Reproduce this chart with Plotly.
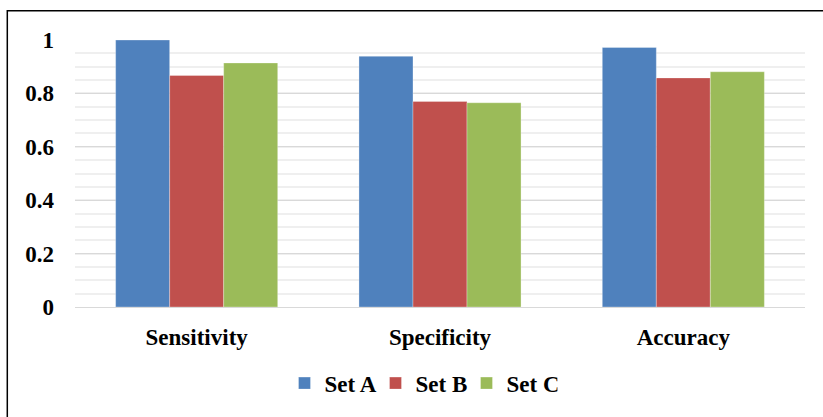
import plotly.graph_objects as go

categories = ["Sensitivity", "Specificity", "Accuracy"]
set_a = [1.0, 0.939, 0.972]
set_b = [0.867, 0.770, 0.858]
set_c = [0.914, 0.765, 0.881]
series_names = ["Set A", "Set B", "Set C"]
colors = ["#4F81BD", "#C0504D", "#9BBB59"]
ytick_vals = [0, 0.2, 0.4, 0.6, 0.8, 1.0]
ytick_text = ["0", "0.2", "0.4", "0.6", "0.8", "1"]

W, H = 823, 417
L, R, T, B = 75, 18, 40, 107
pw, ph = W - L - R, H - T - B

def px_x(px):
    return (px - L) / pw

def px_y(py):
    return (H - B - py) / ph

font = dict(family="Liberation Serif, serif", size=23, color="black", weight="bold")

fig = go.Figure()
for name, vals, col in zip(series_names, [set_a, set_b, set_c], colors):
    fig.add_trace(go.Bar(x=categories, y=vals, name=name,
                         marker=dict(color=col, line=dict(color="rgba(255,255,255,0.5)", width=0.6))))

fig.update_layout(
    width=W, height=H,
    margin=dict(l=L, r=R, t=T, b=B),
    paper_bgcolor="white", plot_bgcolor="white",
    barmode="group", bargap=0.334, bargroupgap=0,
    font=font,
    showlegend=True,
    legend=dict(orientation="h", x=px_x(421), xanchor="center", y=px_y(387), yanchor="middle",
                font=font, itemwidth=30, traceorder="normal", entrywidth=46),
    xaxis=dict(showgrid=False, showline=False, zeroline=False, ticks="outside", ticklen=9,
               tickcolor="rgba(0,0,0,0)", tickfont=font),
    yaxis=dict(range=[0, 1.0], tickvals=ytick_vals, ticktext=ytick_text, tickfont=font,
               showgrid=True, gridcolor="#D9D9D9", gridwidth=1.3,
               zeroline=True, zerolinecolor="#D9D9D9", zerolinewidth=1.3,
               showline=False, ticks="", ticklabelstandoff=20,
               minor=dict(dtick=0.05, showgrid=True, gridcolor="#EFEFEF", gridwidth=1.5)),
    shapes=[dict(type="rect", xref="paper", yref="paper",
                 x0=px_x(7.3), x1=px_x(835), y0=px_y(430), y1=px_y(10.5),
                 line=dict(color="black", width=1.5), fillcolor="rgba(0,0,0,0)", layer="above")],
)

fig.write_html("out.html", config={"displayModeBar": False},
               post_script="document.body.style.margin='0';document.body.style.overflow='hidden';")
